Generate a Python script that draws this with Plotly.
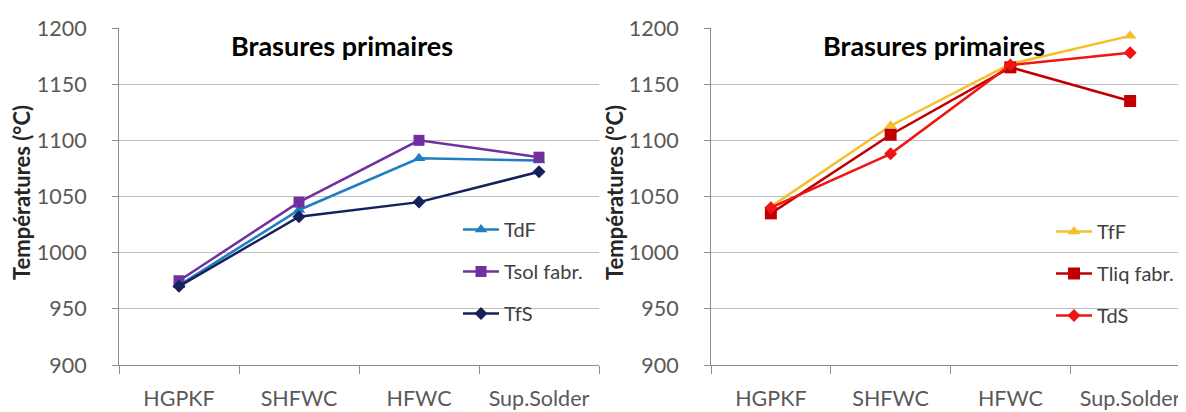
import plotly.graph_objects as go

# Données
categories = ["HGPKF", "SHFWC", "HFWC", "Sup.Solder"]

# Panneau gauche
tdf = [971, 1038, 1084, 1082]
tsol_fabr = [975, 1045, 1100, 1085]
tfs = [970, 1032, 1045, 1072]

# Panneau droit
tff = [1041, 1113, 1168, 1193]
tliq_fabr = [1035, 1105, 1165, 1135]
tds = [1040, 1088, 1167, 1178]

y_ticks = [900, 950, 1000, 1050, 1100, 1150, 1200]

W, H = 1186, 412
FONT = "Lato, 'Open Sans', sans-serif"
GRIS_TXT = "#595959"
GRIS_GRILLE = "#BFBFBF"
GRIS_AXE = "#8C8C8C"


def px_x(v):
    return v / W


def px_y(v):
    return 1 - v / H


fig = go.Figure()

series_gauche = [
    ("TdF", tdf, "#1F7EC2", "triangle-up", 11),
    ("Tsol fabr.", tsol_fabr, "#7030A0", "square", 11),
    ("TfS", tfs, "#14215C", "diamond", 10),
]
series_droite = [
    ("TfF", tff, "#F5BE2A", "triangle-up", 11),
    ("Tliq fabr.", tliq_fabr, "#C00000", "square", 12),
    ("TdS", tds, "#F01414", "diamond", 10),
]

for i, (nom, vals, cor, simb, taille) in enumerate(series_gauche):
    fig.add_trace(go.Scatter(
        x=categories, y=vals, mode="lines+markers", name=nom,
        line=dict(color=cor, width=2.5),
        marker=dict(color=cor, symbol=simb, size=taille),
        xaxis="x", yaxis="y", legend="legend", legendgroup=f"g{i}",
    ))

for i, (nom, vals, cor, simb, taille) in enumerate(series_droite):
    fig.add_trace(go.Scatter(
        x=categories, y=vals, mode="lines+markers", name=nom,
        line=dict(color=cor, width=2.5),
        marker=dict(color=cor, symbol=simb, size=taille),
        xaxis="x2", yaxis="y2", legend="legend2", legendgroup=f"d{i}",
    ))

axe_x = dict(
    type="category", range=[-0.5, 3.5], tickson="boundaries",
    ticks="outside", ticklen=8, tickcolor=GRIS_AXE,
    showline=True, linecolor=GRIS_AXE, linewidth=1,
    showgrid=False, zeroline=False, automargin=False,
    tickfont=dict(family=FONT, size=21.5, color=GRIS_TXT),
    ticklabelstandoff=14, fixedrange=True,
)
axe_y = dict(
    range=[900, 1200], tickvals=y_ticks,
    ticks="outside", ticklen=6, tickcolor=GRIS_AXE,
    showline=True, linecolor=GRIS_AXE, linewidth=1,
    showgrid=True, gridcolor=GRIS_GRILLE, gridwidth=1.3,
    zeroline=False, automargin=False,
    tickfont=dict(family=FONT, size=21.5, color=GRIS_TXT),
    ticklabelstandoff=21, fixedrange=True,
)

dom_y = [px_y(357), px_y(20)]
leg = dict(
    font=dict(family=FONT, size=20, color="#404040"),
    bgcolor="rgba(0,0,0,0)", tracegroupgap=13,
    xanchor="left", yanchor="top", itemwidth=36,
)

fig.update_layout(
    width=W, height=H,
    margin=dict(l=0, r=0, t=0, b=0),
    paper_bgcolor="white", plot_bgcolor="white",
    xaxis=dict(axe_x, domain=[px_x(111), px_x(591)], anchor="y"),
    yaxis=dict(axe_y, domain=dom_y, anchor="x"),
    xaxis2=dict(axe_x, domain=[px_x(703), px_x(1182)], anchor="y2"),
    yaxis2=dict(axe_y, domain=dom_y, anchor="x2"),
    legend=dict(leg, x=px_x(450), y=px_y(202)),
    legend2=dict(leg, x=px_x(1043), y=px_y(204)),
    showlegend=True,
)

# Titres et libellés d'axe
for cx in [334, 926]:
    fig.add_annotation(
        text="<b>Brasures primaires</b>", xref="paper", yref="paper",
        x=px_x(cx), y=px_y(38), xanchor="center", yanchor="middle",
        showarrow=False,
        font=dict(family=FONT, size=27, color="black"),
    )
for lx in [13, 606]:
    fig.add_annotation(
        text="<b>Températures (°C)</b>", xref="paper", yref="paper",
        x=px_x(lx), y=px_y(185), xanchor="center", yanchor="middle",
        showarrow=False, textangle=-90,
        font=dict(family=FONT, size=22, color="#262626"),
    )

fig.write_html("out.html")
